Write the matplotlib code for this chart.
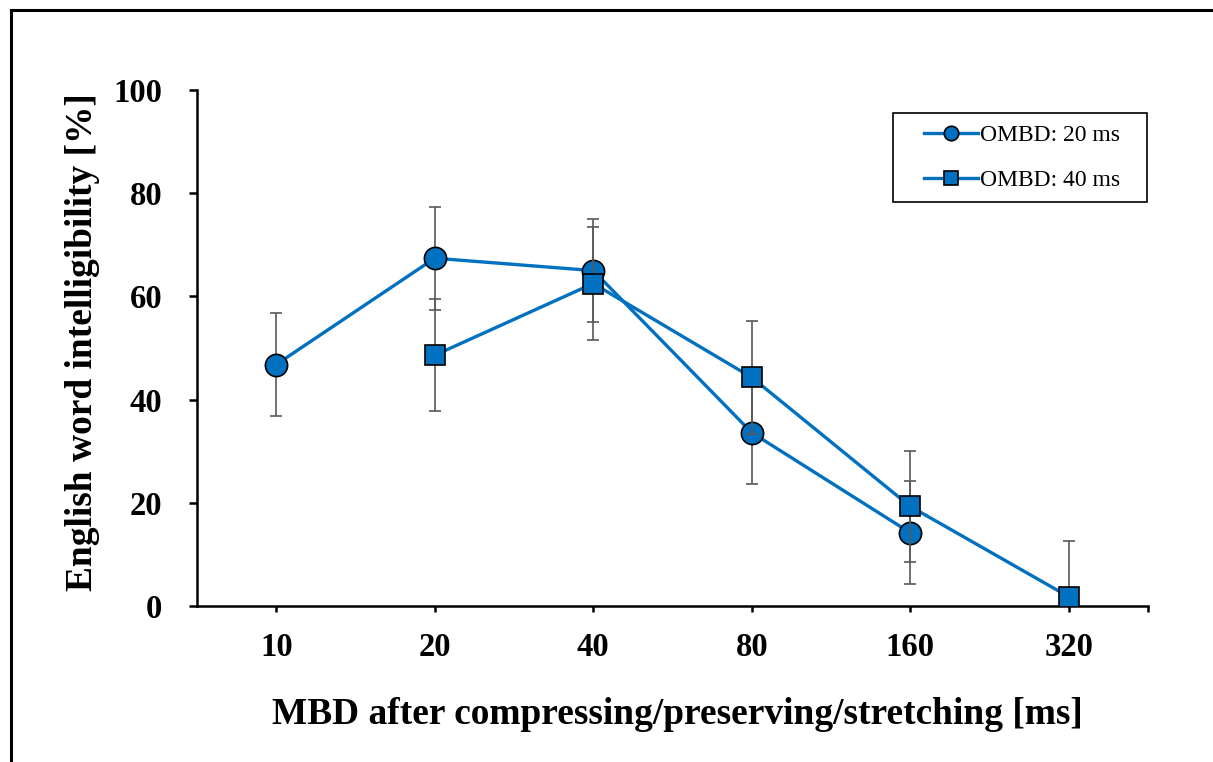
import matplotlib
matplotlib.use("Agg")
import matplotlib.pyplot as plt
from matplotlib.lines import Line2D
from matplotlib.patches import Rectangle

categories = ["10", "20", "40", "80", "160", "320"]

# OMBD 20 ms: categories 10..160
s20_idx = [0, 1, 2, 3, 4]
s20_vals = [46.8, 67.4, 65.0, 33.6, 14.2]
s20_err = [10.0, 10.0, 10.0, 10.0, 10.0]

# OMBD 40 ms: categories 20..320
s40_idx = [1, 2, 3, 4, 5]
s40_vals = [48.6, 62.5, 44.3, 19.3, 1.8]
s40_err = [10.8, 11.0, 10.9, 10.8, 10.8]

labels = ["OMBD: 20 ms", "OMBD: 40 ms"]
yticks = [0, 20, 40, 60, 80, 100]

blue = "#0070C0"
grey = "#595959"
serif = ["Liberation Serif", "DejaVu Serif"]

W, H = 1213, 762
fig = plt.figure(figsize=(W / 100, H / 100), dpi=100)
ax = fig.add_axes([197 / W, 1 - 606 / H, (1148 - 197) / W, (606 - 90) / H])

series = [
    (s20_idx, s20_vals, s20_err, "o", 16, labels[0]),
    (s40_idx, s40_vals, s40_err, "s", 15, labels[1]),
]
handles = []
for k, (idx, vals, err, mk, ms, lab) in enumerate(series):
    ax.errorbar(idx, vals, yerr=err, fmt="none", ecolor=grey, elinewidth=1.2,
                capsize=4.3, capthick=1.2, zorder=2 + k * 2)
    ln, = ax.plot(idx, vals, color=blue, lw=2.4, marker=mk, ms=ms,
                  markerfacecolor=blue, markeredgecolor="black",
                  markeredgewidth=1.2, label=lab, zorder=3 + k * 2)
    handles.append(ln)

ax.set_xlim(-0.5, 5.5)
ax.set_ylim(0, 100)
ax.set_xticks(range(len(categories)))
ax.set_xticklabels(categories)
ax.set_xticks([5.5], minor=True)
ax.set_yticks(yticks)

for s in ["top", "right"]:
    ax.spines[s].set_visible(False)
for s in ["left", "bottom"]:
    ax.spines[s].set_linewidth(1.8)
    ax.spines[s].set_color("black")

ax.tick_params(axis="y", direction="out", length=6, width=1.8, pad=19,
               labelsize=23.5)
ax.tick_params(axis="x", which="both", direction="out", length=4.5, width=1.8,
               pad=14, labelsize=23.5)
for t in ax.get_xticklabels() + ax.get_yticklabels():
    t.set_fontfamily(serif)
    t.set_fontweight("bold")

fig.text((272 + 1082) / 2 / W, 1 - 715 / H,
         "MBD after compressing/preserving/stretching [ms]",
         ha="center", va="center", fontsize=26.9, fontweight="bold",
         family=serif)
fig.text(83 / W, 1 - 342 / H, "English word intelligibility [%]",
         ha="center", va="center", rotation=90, fontsize=26.9,
         fontweight="bold", family=serif)

# legend box
fig.add_artist(Rectangle((893 / W, 1 - 202 / H), (1147 - 893) / W, (202 - 113) / H,
                         transform=fig.transFigure, facecolor="white",
                         edgecolor="black", lw=1.2, zorder=9))
leg = fig.legend(handles=handles, loc="center",
                 bbox_to_anchor=(1022 / W, 1 - 158 / H),
                 prop={"family": serif, "size": 17},
                 frameon=False, markerscale=0.65, handlelength=2.3,
                 handletextpad=0.1, labelspacing=1.0, borderpad=0,
                 borderaxespad=0)
leg.set_zorder(10)

# figure border (top and left visible)
fig.add_artist(Line2D([11 / W, 11 / W], [0, 1 - 10 / H], transform=fig.transFigure,
                      color="black", lw=2.2))
fig.add_artist(Line2D([11 / W, 1], [1 - 10 / H, 1 - 10 / H], transform=fig.transFigure,
                      color="black", lw=2.2))

fig.savefig("out.png", dpi=100, facecolor="white")
